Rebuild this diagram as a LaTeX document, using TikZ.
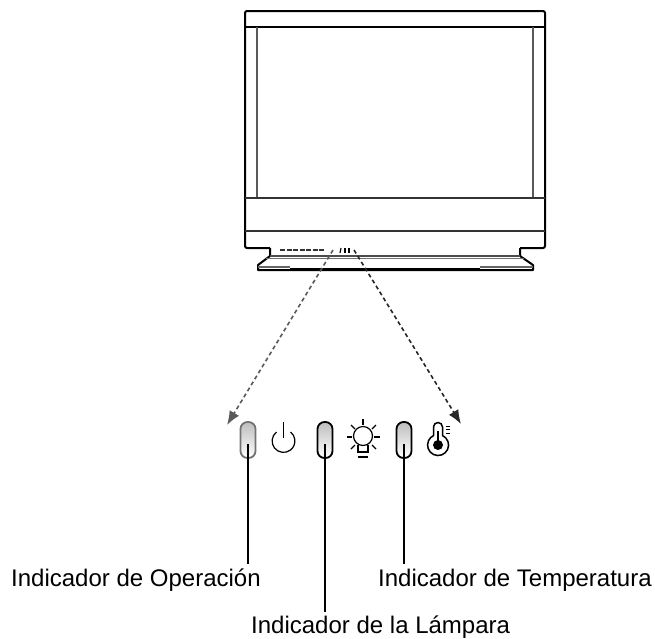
\documentclass[tikz,border=0pt]{standalone}
\usepackage{fontspec}
\setmainfont{Liberation Sans}
\usetikzlibrary{calc,arrows.meta}
\definecolor{LampTop}{RGB}{190,190,190}
\tikzset{
  lamp/.style={draw=black, line width=1.8pt, rounded corners=7pt, minimum width=15pt, minimum height=36pt, inner sep=0pt, top color=LampTop, bottom color=white},
  label/.style={font=\fontsize{24}{28}\selectfont, inner sep=0pt, anchor=base west},
  leader/.style={line width=2.8pt},
  pointer/.style={dash pattern=on 4pt off 3pt, line width=1.6pt, -{Latex[length=14pt,width=11pt]}},
  icon/.style={line width=1.2pt}
}

\begin{document}
\begin{tikzpicture}[x=1pt,y=-1pt]
  \useasboundingbox (0,0) rectangle (655,638);

  % Cabinet
  \draw[line width=2pt, rounded corners=2pt] (270,248) -- (245,248) -- (245,11) -- (545,11) -- (545,248) -- (520,248);
  \draw[line width=1.9pt] (245,27) -- (545,27);
  \draw[line width=1.2pt, black!65] (257,27) -- (257,198);
  \draw[line width=1.2pt, black!65] (533,27) -- (533,198);
  \draw[line width=1.1pt, black!80] (245,198) -- (545,198);
  \draw[line width=1.1pt, black!80] (245,231) -- (545,231);

  % Stand
  \draw[line width=2pt, line join=round] (270,248) -- (270,256) -- (258,265) -- (258,270) -- (533,270) -- (533,265) -- (520,256) -- (520,248);
  \draw[line width=1.2pt, black!70] (270,256) -- (520,256);
  \draw[line width=1.2pt, black!55] (266,258.5) -- (524,258.5);
  \draw[line width=1.2pt, black!60] (258,267) -- (290,267);
  \draw[line width=1.2pt, black!60] (480,267) -- (533,267);
  \draw[line width=1pt] (290,268) -- (480,268);
  \draw[line width=2.2pt] (299,270) -- (500,270);

  % Marks under the cabinet
  \draw[line width=1.8pt, black!80, dash pattern=on 5pt off 1.5pt] (280,250) -- (325,250);
  \draw[line width=1.1pt] (341,248) -- (340,253);
  \draw[line width=1.1pt] (345,248) -- (345,253);
  \draw[line width=1.1pt] (349,248) -- (349,253);

  % Lamps
  \node[lamp, draw=black!55] (oplamp) at (248,440) {};
  \node[lamp] (lamplamp) at (325,440) {};
  \node[lamp] (templamp) at (404,440) {};

  % Dashed pointers
  \coordinate (opstart) at (333,250);
  \coordinate (opend) at (227,425);
  \coordinate (tempstart) at (354,250);
  \coordinate (tempend) at (461,424);
  \draw[pointer, black!65] (opstart) -- (opend);
  \draw[pointer, black!85] (tempstart) -- (tempend);

  % Power symbol
  \node[inner sep=0pt, minimum size=0pt] (powericon) at (283.5,441) {};
  \draw[icon] ($(powericon)+(-7,-9)$) arc[start angle=232, end angle=-52, radius=11.4];
  \draw[icon] ($(powericon)+(0,-19)$) -- ($(powericon)+(0,-3)$);

  % Bulb symbol
  \node[draw, circle, icon, minimum size=19pt, inner sep=0pt] (bulbicon) at (363,436) {};
  \draw[icon] (358,445) -- (358,452) -- (368,452) -- (368,445);
  \draw[icon] (358,457) -- (368,457);
  \draw[icon] (363,419) -- (363,425);
  \draw[icon] (347,437) -- (352,437);
  \draw[icon] (374,437) -- (380,437);
  \draw[icon] (351,425) -- (355,429);
  \draw[icon] (376,425) -- (372,429);
  \draw[icon] (351,449) -- (355,445);
  \draw[icon] (376,449) -- (372,445);

  % Thermometer symbol
  \node[inner sep=0pt, minimum size=0pt] (thermoicon) at (438,445) {};
  \draw[line width=1.5pt] (433.5,435.5) -- (433.5,427) arc[start angle=180, end angle=360, radius=4.5] -- (442.5,435.5) arc[start angle=-65, end angle=245, radius=10.5];
  \fill (thermoicon) circle (5);
  \draw[line width=1.6pt] (438,431) -- (438,445);
  \draw[line width=0.9pt] (446,426) -- (450,426);
  \draw[line width=0.9pt] (446,429.5) -- (450,429.5);
  \draw[line width=0.9pt] (446,433) -- (450,433);

  % Labels
  \node[label] (oplabel) at (11,586) {Indicador de Operación};
  \node[label] (templabel) at (378,586) {Indicador de Temperatura};
  \node[label] (lamplabel) at (251,633) {Indicador de la Lámpara};

  % Leaders
  \coordinate (opfoot) at (248,564);
  \coordinate (lampfoot) at (325,612);
  \coordinate (tempfoot) at (404,564);
  \draw[leader] ($(oplamp.center)+(0,4)$) -- (opfoot);
  \draw[leader] ($(lamplamp.center)+(0,4)$) -- (lampfoot);
  \draw[leader] ($(templamp.center)+(0,4)$) -- (tempfoot);

\end{tikzpicture}
\end{document}
